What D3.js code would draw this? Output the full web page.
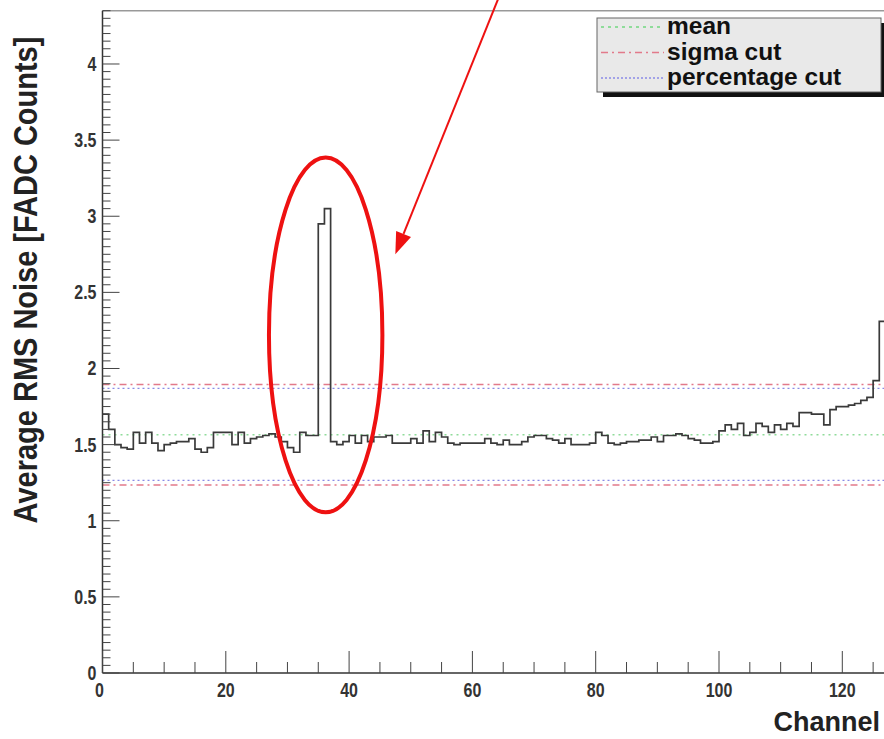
<!DOCTYPE html>
<html><head><meta charset="utf-8">
<script src="https://cdn.jsdelivr.net/npm/d3@7/dist/d3.min.js"></script>
<style>body{margin:0;background:#fff}svg{display:block}</style>
</head><body>
<svg id="c" width="884" height="739"></svg>
<script>
const rmsNoise = [
 1.70,1.60,1.50,1.48,1.47,1.58,1.51,1.58,1.51,1.46,
 1.50,1.51,1.52,1.52,1.54,1.47,1.45,1.48,1.58,1.58,
 1.58,1.50,1.58,1.51,1.54,1.55,1.56,1.57,1.55,1.52,
 1.48,1.45,1.58,1.56,1.56,2.95,3.05,1.52,1.50,1.52,
 1.56,1.51,1.56,1.52,1.55,1.55,1.56,1.51,1.51,1.51,
 1.54,1.51,1.59,1.52,1.58,1.55,1.51,1.50,1.51,1.51,
 1.51,1.51,1.54,1.51,1.50,1.53,1.50,1.50,1.52,1.55,
 1.56,1.56,1.54,1.53,1.51,1.54,1.50,1.50,1.50,1.51,
 1.58,1.56,1.51,1.50,1.51,1.52,1.52,1.53,1.53,1.55,
 1.52,1.56,1.56,1.57,1.56,1.54,1.53,1.51,1.51,1.52,
 1.59,1.63,1.60,1.64,1.56,1.58,1.64,1.62,1.58,1.63,
 1.60,1.64,1.62,1.71,1.71,1.70,1.70,1.63,1.73,1.75,
 1.75,1.76,1.77,1.79,1.81,1.92,2.31,2.31
];
const meanLevel = [1.565];
const sigmaCuts = [1.895, 1.235];
const percentageCuts = [1.87, 1.265];
const xTickValues = [0,20,40,60,80,100,120];
const yTickValues = [0,0.5,1,1.5,2,2.5,3,3.5,4];
const legendLabels = ["mean","sigma cut","percentage cut"];
// annotation in data units: ellipse [centreChannel, centreValue, halfWidthChannels, halfHeightValue]
const ellipseSpec = [36.2, 2.22, 9.2, 1.165];
// arrow [fromChannel, fromValue, toChannel, toValue]
const arrowSpec = [64.4, 4.45, 47.5, 2.75];

const svg = d3.select("#c");
const x = d3.scaleLinear().domain([0,128]).range([102.5, 102.5 + 128*6.165]);
const y = d3.scaleLinear().domain([0,4.35]).range([673, 10.7]);
const X0 = x(0), Y0 = y(0), YT = y(4.35);

svg.append("defs").append("clipPath").attr("id","pa")
  .append("rect").attr("x",X0).attr("y",YT).attr("width",884-X0).attr("height",Y0-YT);

// frame top
svg.append("line").attr("x1",X0).attr("x2",884).attr("y1",YT).attr("y2",YT)
  .attr("stroke","#999").attr("stroke-width",1.5);

// horizontal reference lines
const g = svg.append("g").attr("clip-path","url(#pa)");
g.selectAll("line.pc").data(percentageCuts).join("line").attr("class","pc")
  .attr("x1",X0).attr("x2",884).attr("y1",d=>y(d)).attr("y2",d=>y(d))
  .attr("stroke","#8a8ae6").attr("stroke-width",1.3).attr("stroke-dasharray","2,3");
g.selectAll("line.sc").data(sigmaCuts).join("line").attr("class","sc")
  .attr("x1",X0).attr("x2",884).attr("y1",d=>y(d)).attr("y2",d=>y(d))
  .attr("stroke","#e27a8a").attr("stroke-width",1.4).attr("stroke-dasharray","7,4,2,4");
g.selectAll("line.mn").data(meanLevel).join("line").attr("class","mn")
  .attr("x1",X0).attr("x2",884).attr("y1",d=>y(d)).attr("y2",d=>y(d))
  .attr("stroke","#8fdc9a").attr("stroke-width",1.6).attr("stroke-dasharray","2,4");

// histogram
const pts = rmsNoise.map((v,i)=>[i,v]);
pts.push([rmsNoise.length, rmsNoise[rmsNoise.length-1]]);
const line = d3.line().x(d=>x(d[0])).y(d=>y(d[1])).curve(d3.curveStepAfter);
g.append("path").attr("d",line(pts)).attr("fill","none")
  .attr("stroke","#3a3a3a").attr("stroke-width",1.7);

// axes
const axG = svg.append("g");
axG.append("line").attr("x1",X0).attr("x2",X0).attr("y1",YT).attr("y2",Y0).attr("stroke","#333").attr("stroke-width",1.5);
axG.append("line").attr("x1",X0).attr("x2",884).attr("y1",Y0).attr("y2",Y0).attr("stroke","#333").attr("stroke-width",1.5);

const yMinor = d3.range(0, 4.351, 0.05);
axG.selectAll("line.ym").data(yMinor).join("line")
  .attr("x1",X0).attr("x2",d=>X0 + (Math.abs(d*2-Math.round(d*2))<1e-6 ? 17 : 8))
  .attr("y1",d=>y(d)).attr("y2",d=>y(d)).attr("stroke","#444").attr("stroke-width",1);
const xMinor = d3.range(0, 129, 5);
axG.selectAll("line.xm").data(xMinor).join("line")
  .attr("x1",d=>x(d)).attr("x2",d=>x(d))
  .attr("y1",Y0).attr("y2",d=>Y0 - (d%20===0 ? 22 : 11)).attr("stroke","#444").attr("stroke-width",1);

const tickFont = "Liberation Sans, Arial, sans-serif";
axG.selectAll("text.yl").data(yTickValues).join("text")
  .attr("transform",d=>`translate(${X0-6},${y(d)+7}) scale(1,1.3)`)
  .attr("text-anchor","end").attr("font-family",tickFont).attr("font-weight","bold")
  .attr("font-size",16).attr("fill","#333").text(d=>String(d));
axG.selectAll("text.xl").data(xTickValues).join("text")
  .attr("transform",d=>`translate(${x(d)-(d===0?3:0)},${697}) scale(1,1.3)`)
  .attr("text-anchor","middle").attr("font-family",tickFont).attr("font-weight","bold")
  .attr("font-size",16).attr("fill","#333").text(d=>String(d));

svg.append("text").attr("transform","translate(37,280) scale(1.12,1) rotate(-90)")
  .attr("text-anchor","middle").attr("font-family",tickFont).attr("font-weight","bold")
  .attr("font-size",29).attr("fill","#222").text("Average RMS Noise [FADC Counts]");
svg.append("text").attr("x",880).attr("y",731).attr("text-anchor","end")
  .attr("font-family",tickFont).attr("font-weight","bold")
  .attr("font-size",27).attr("fill","#222").text("Channel");

// legend
const lg = svg.append("g");
lg.append("rect").attr("x",603).attr("y",23).attr("width",284).attr("height",74).attr("fill","#111");
lg.append("rect").attr("x",597).attr("y",18).attr("width",284).attr("height",74)
  .attr("fill","#e9e9e9").attr("stroke","#666").attr("stroke-width",1);
const legStyles = [
  {c:"#8fdc9a", dash:"3,4", w:2},
  {c:"#e27a8a", dash:"7,4,2,4", w:1.6},
  {c:"#8a8ae6", dash:"2,2", w:1.4}
];
legendLabels.forEach((t,i)=>{
  const yy = 27 + i*25.5;
  lg.append("line").attr("x1",601).attr("x2",664).attr("y1",yy).attr("y2",yy)
    .attr("stroke",legStyles[i].c).attr("stroke-width",legStyles[i].w).attr("stroke-dasharray",legStyles[i].dash);
  lg.append("text").attr("x",667).attr("y",yy+7).attr("font-family",tickFont)
    .attr("font-weight","bold").attr("font-size",24.5).attr("fill","#111").text(t);
});

// annotation
const ex = ellipseSpec;
svg.append("ellipse").attr("cx",x(ex[0])).attr("cy",y(ex[1]))
  .attr("rx",x(ex[0]+ex[2])-x(ex[0])).attr("ry",y(ex[1]-ex[3])-y(ex[1]))
  .attr("fill","none").attr("stroke","#ee1111").attr("stroke-width",4);
const x1 = x(arrowSpec[0]), y1 = y(arrowSpec[1]), x2 = x(arrowSpec[2]), y2 = y(arrowSpec[3]);
const ang = Math.atan2(y2-y1, x2-x1);
const hl = 22, hw = 8;
const bx = x2 - hl*Math.cos(ang), by = y2 - hl*Math.sin(ang);
svg.append("line").attr("x1",x1).attr("y1",y1).attr("x2",bx).attr("y2",by)
  .attr("stroke","#ee1111").attr("stroke-width",2);
svg.append("path").attr("d",`M${x2},${y2}L${bx - hw*Math.sin(ang)},${by + hw*Math.cos(ang)}L${bx + hw*Math.sin(ang)},${by - hw*Math.cos(ang)}Z`)
  .attr("fill","#ee1111");
</script>
</body></html>
